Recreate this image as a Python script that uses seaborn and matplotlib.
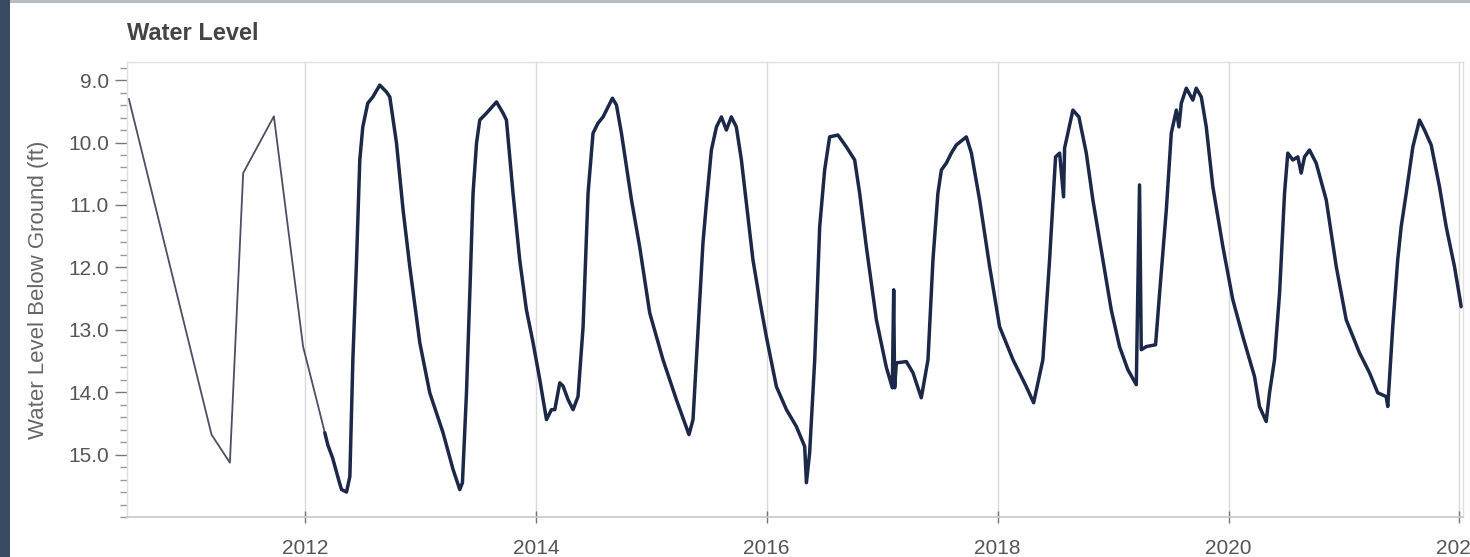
import matplotlib
matplotlib.use("Agg")
import matplotlib.pyplot as plt
import matplotlib.patches as mpatches
from matplotlib.ticker import MultipleLocator, FixedLocator, FuncFormatter
import seaborn as sns
import pandas as pd

# ---- data (decimal years, feet below ground) ----
manual_years = [2010.476, 2011.192, 2011.351, 2011.466, 2011.732, 2011.985, 2012.130, 2012.173]
manual_levels = [9.30, 14.68, 15.13, 10.49, 9.58, 13.27, 14.33, 14.65]

logger_years = [
    2012.173, 2012.200, 2012.240, 2012.270, 2012.300, 2012.318, 2012.361, 2012.390,
    2012.416, 2012.448, 2012.476, 2012.502, 2012.545, 2012.589, 2012.649, 2012.707,
    2012.736, 2012.794, 2012.851, 2012.909, 2012.996, 2013.082, 2013.197, 2013.284,
    2013.342, 2013.365, 2013.400, 2013.429, 2013.457, 2013.487, 2013.515, 2013.573,
    2013.660, 2013.717, 2013.746, 2013.803, 2013.861, 2013.919, 2013.977, 2014.035,
    2014.093, 2014.136, 2014.165, 2014.208, 2014.236, 2014.280, 2014.323, 2014.366,
    2014.410, 2014.453, 2014.496, 2014.539, 2014.583, 2014.626, 2014.664, 2014.699,
    2014.742, 2014.829, 2014.900, 2014.987, 2015.102, 2015.218, 2015.327, 2015.362,
    2015.391, 2015.448, 2015.478, 2015.521, 2015.565, 2015.608, 2015.651, 2015.694,
    2015.737, 2015.781, 2015.824, 2015.881, 2015.939, 2015.997, 2016.084, 2016.171,
    2016.257, 2016.329, 2016.344, 2016.372, 2016.416, 2016.459, 2016.502, 2016.545,
    2016.617, 2016.690, 2016.762, 2016.805, 2016.863, 2016.950, 2017.036, 2017.088,
    2017.100, 2017.108, 2017.123, 2017.210, 2017.267, 2017.339, 2017.397, 2017.440,
    2017.483, 2017.513, 2017.556, 2017.599, 2017.642, 2017.729, 2017.773, 2017.844,
    2017.931, 2018.017, 2018.133, 2018.248, 2018.312, 2018.392, 2018.450, 2018.502,
    2018.537, 2018.571, 2018.580, 2018.652, 2018.704, 2018.768, 2018.825, 2018.912,
    2018.984, 2019.056, 2019.128, 2019.201, 2019.229, 2019.244, 2019.287, 2019.368,
    2019.403, 2019.461, 2019.504, 2019.548, 2019.570, 2019.591, 2019.634, 2019.691,
    2019.720, 2019.764, 2019.807, 2019.864, 2019.951, 2020.037, 2020.124, 2020.225,
    2020.268, 2020.326, 2020.355, 2020.398, 2020.442, 2020.485, 2020.513, 2020.557,
    2020.600, 2020.629, 2020.658, 2020.701, 2020.759, 2020.846, 2020.933, 2021.019,
    2021.134, 2021.221, 2021.292, 2021.365, 2021.379, 2021.422, 2021.465, 2021.495,
    2021.539, 2021.596, 2021.654, 2021.697, 2021.755, 2021.827, 2021.885, 2021.957,
    2022.015,
]
logger_levels = [
    14.65, 14.85, 15.05, 15.25, 15.45, 15.56, 15.60, 15.35,
    13.48, 11.88, 10.28, 9.75, 9.37, 9.27, 9.08, 9.19,
    9.27, 10.01, 11.08, 11.99, 13.21, 14.01, 14.65, 15.24,
    15.56, 15.45, 14.01, 12.41, 10.81, 10.01, 9.64, 9.53,
    9.35, 9.53, 9.64, 10.81, 11.88, 12.68, 13.21, 13.80,
    14.44, 14.28, 14.28, 13.85, 13.90, 14.12, 14.28, 14.07,
    12.95, 10.81, 9.85, 9.69, 9.59, 9.43, 9.29, 9.40,
    9.85, 10.92, 11.67, 12.73, 13.48, 14.12, 14.68, 14.44,
    13.48, 11.61, 10.97, 10.12, 9.75, 9.59, 9.80, 9.59,
    9.75, 10.28, 10.97, 11.88, 12.52, 13.11, 13.91, 14.28,
    14.55, 14.87, 15.45, 14.97, 13.48, 11.35, 10.44, 9.91,
    9.88, 10.07, 10.28, 10.81, 11.67, 12.84, 13.60, 13.93,
    12.36, 13.93, 13.53, 13.51, 13.69, 14.09, 13.48, 11.88,
    10.81, 10.44, 10.33, 10.17, 10.04, 9.91, 10.17, 10.92,
    11.99, 12.95, 13.48, 13.91, 14.17, 13.48, 11.88, 10.23,
    10.17, 10.87, 10.09, 9.48, 9.59, 10.17, 10.92, 11.88,
    12.68, 13.27, 13.64, 13.88, 10.68, 13.32, 13.27, 13.24,
    12.41, 11.08, 9.85, 9.48, 9.75, 9.37, 9.13, 9.32,
    9.13, 9.27, 9.75, 10.71, 11.67, 12.52, 13.11, 13.75,
    14.23, 14.47, 14.01, 13.48, 12.41, 10.81, 10.17, 10.28,
    10.23, 10.49, 10.23, 10.12, 10.33, 10.92, 11.99, 12.84,
    13.37, 13.69, 14.01, 14.07, 14.23, 12.95, 11.88, 11.35,
    10.81, 10.07, 9.64, 9.80, 10.04, 10.71, 11.35, 11.99,
    12.63,
]

year_ticks = [2012, 2014, 2016, 2018, 2020, 2022]
level_ticks = [9.0, 10.0, 11.0, 12.0, 13.0, 14.0, 15.0]
title_text = "Water Level"
ylabel_text = "Water Level Below Ground (ft)"

manual_df = pd.DataFrame({"year": manual_years, "level": manual_levels})
logger_df = pd.DataFrame({"year": logger_years, "level": logger_levels})

# ---- style ----
sns.set_theme(style="white")
plt.rcParams["font.family"] = ["Liberation Sans", "DejaVu Sans"]

fig = plt.figure(figsize=(14.7, 5.57), dpi=100)
fig.patch.set_facecolor("white")
ax = fig.add_axes([0.0864, 0.0718, 0.9088, 0.8169])

# page decorations: dark strip on left, thin gray line at top
fig.patches.append(mpatches.Rectangle((0, 0), 0.0068, 1, transform=fig.transFigure,
                                      facecolor="#3a4a63", edgecolor="none", zorder=0))
fig.patches.append(mpatches.Rectangle((0.0068, 0.994), 0.9932, 0.006, transform=fig.transFigure,
                                      facecolor="#b8bcc4", edgecolor="none", zorder=0))

sns.lineplot(data=manual_df, x="year", y="level", ax=ax, sort=False, estimator=None,
             color="#4a4f63", linewidth=1.3)
sns.lineplot(data=logger_df, x="year", y="level", ax=ax, sort=False, estimator=None,
             color="#1b2847", linewidth=2.5)

ax.set_xlim(2010.46, 2022.03)
ax.set_ylim(16.0, 8.71)

ax.xaxis.set_major_locator(FixedLocator(year_ticks))
ax.xaxis.set_major_formatter(FuncFormatter(lambda v, p: f"{int(round(v))}"))
ax.yaxis.set_major_locator(FixedLocator(level_ticks))
ax.yaxis.set_major_formatter(FuncFormatter(lambda v, p: f"{v:.1f}"))
ax.yaxis.set_minor_locator(MultipleLocator(0.2))

ax.grid(axis="x", color="#d9d9d9", linewidth=1.0)
ax.grid(axis="y", visible=False)

for side in ["top", "right", "left"]:
    ax.spines[side].set_color("#e0e0e0")
    ax.spines[side].set_linewidth(1.0)
ax.spines["bottom"].set_color("#c8c8c8")
ax.spines["bottom"].set_linewidth(1.2)

ax.tick_params(axis="y", which="major", length=9, width=1.0, color="#777777",
               labelsize=15, labelcolor="#555555", pad=4, direction="out", left=True)
ax.tick_params(axis="y", which="minor", length=5, width=1.0, color="#999999", left=True)
ax.tick_params(axis="x", which="major", length=8, width=1.0, color="#777777",
               labelsize=15, labelcolor="#555555", pad=12, direction="inout", bottom=True)

ax.set_xlabel("")
ax.set_ylabel(ylabel_text, fontsize=16, color="#666666", labelpad=14)

fig.text(127 / 1470, 1 - 33 / 557, title_text, fontsize=17, fontweight="bold",
         color="#444444", ha="left", va="center")

fig.savefig("out.png", dpi=100)
